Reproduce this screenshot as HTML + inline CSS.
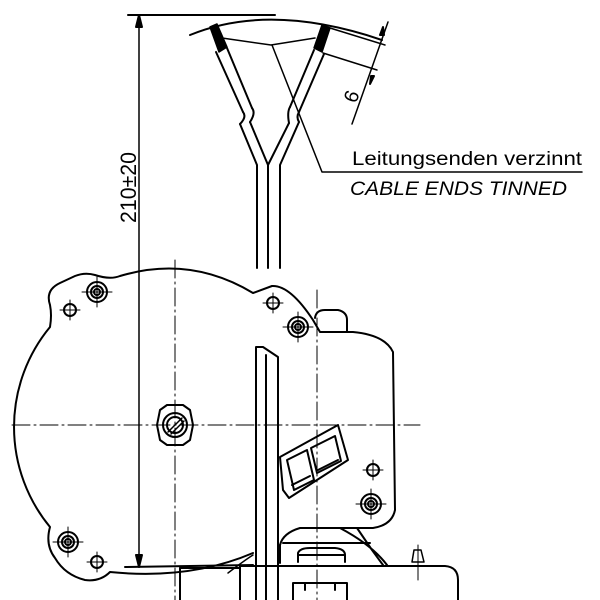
<!DOCTYPE html>
<html><head><style>html,body{margin:0;padding:0;background:#fff}svg{display:block}</style></head><body>
<svg width="600" height="600" viewBox="0 0 600 600" xmlns="http://www.w3.org/2000/svg" fill="none" stroke="#000" stroke-width="2" stroke-linejoin="round" stroke-linecap="round">
<!-- dimension 210 -->
<line x1="128" y1="15" x2="275" y2="15"/>
<line x1="139" y1="15" x2="139" y2="567" stroke-width="1.5"/>
<path d="M139 15 l-3 12 h6z" fill="#000"/>
<path d="M139 567 l-3 -12 h6z" fill="#000"/>
<line x1="125" y1="567" x2="253" y2="565"/>
<text x="0" y="0" transform="translate(136,223) rotate(-90)" font-family="Liberation Sans, sans-serif" font-size="22" fill="#000" stroke="none" textLength="71" lengthAdjust="spacingAndGlyphs">210±20</text>
<!-- top arc -->
<path d="M190 35 Q270 2 382 40"/>
<path d="M222 38 L271 45 L315 38" stroke-width="1.5"/>
<!-- left wire -->
<path d="M210 27 L217 24 L227 47 L219 52 Z" fill="#000" stroke-width="1.5"/>
<path d="M216 52 L243 112 M227 48 L252 108"/>
<path d="M240 124 L257 165 L257 268 M250 122 L268 165"/>
<path d="M243 112 q4 5 -3 12 M252 108 q4 5 -2 14"/>
<!-- right wire -->
<path d="M322 25 L330 28 L322 52 L314 48 Z" fill="#000" stroke-width="1.5"/>
<path d="M314 50 L290 107 M324 54 L299 112"/>
<path d="M289 123 L268 165 L268 268 M299 122 L280 165 L280 268"/>
<path d="M290 107 q-3 5 -1 16 M299 112 q-3 5 0 10"/>
<!-- dim 6 -->
<line x1="330" y1="28" x2="385" y2="45" stroke-width="1.5"/>
<line x1="323" y1="53" x2="377" y2="70" stroke-width="1.5"/>
<line x1="388" y1="22" x2="352" y2="124" stroke-width="1.5"/>
<path d="M384 35 l-1 -8 l-3 8z" fill="#000"/>
<path d="M371 76 l-1 8 l4 -8z" fill="#000"/>
<text transform="translate(356,104) rotate(-70)" font-family="Liberation Sans, sans-serif" font-size="20" fill="#000" stroke="none">6</text>
<!-- leader -->
<path d="M272 45 L322 172 L582 172" stroke-width="1.5"/>
<text x="352" y="165" font-family="Liberation Sans, sans-serif" font-size="19" fill="#000" stroke="none" textLength="230" lengthAdjust="spacingAndGlyphs">Leitungsenden verzinnt</text>
<text x="350" y="195" font-family="Liberation Sans, sans-serif" font-style="italic" font-size="19" fill="#000" stroke="none" textLength="217" lengthAdjust="spacingAndGlyphs">CABLE ENDS TINNED</text>
<!-- body outline -->
<path d="M50 305 Q45 290 60 283 L75 276 Q85 272 95 275 Q110 280 120 276 Q190 255 253 293 L272 286 Q290 285 313 320 L320 332 L353 332 Q385 335 393 352 L395 510 Q392 525 373 528 L300 528 Q283 533 280 545 M50 327 Q52 315 50 305 M50 327 A157 157 0 0 0 50 527 Q45 545 55 558 Q65 575 85 580 Q100 582 110 572 Q190 580 253 553"/>
<path d="M357 528 L372 550 L383 565 M340 528 Q372 545 387 565"/>
<path d="M280 545 L280 563"/>
<line x1="283" y1="543" x2="370" y2="543"/>
<path d="M240 566 L445 566 Q458 567 458 580 L458 600"/>
<line x1="180" y1="568" x2="240" y2="568"/>
<path d="M180 568 L180 600 M240 600 L240 566"/>
<!-- screw on base -->
<path d="M298 562 L298 553 Q300 548 310 548 L335 548 Q345 549 345 555 L345 562"/>
<line x1="298" y1="555" x2="345" y2="555"/>
<!-- bottom box -->
<path d="M293 600 L293 583 L347 583 L347 600"/>
<path d="M305 583 L305 590 M335 583 L335 590"/>
<!-- small post -->
<path d="M412 562 L414 550 L421 550 L424 562 Z" stroke-width="1.5"/>
<line x1="418" y1="545" x2="418" y2="580" stroke-width="1"/>
<!-- vertical cable -->
<path d="M256 600 L256 347 L263 347 L278 357 L278 600 M266 355 L266 600"/>
<path d="M253 555 Q245 560 228 573" stroke-width="1.5"/>
<!-- terminal block -->
<path d="M280 457 L338 425 L348 460 L289 498 L283 490 Z"/>
<path d="M287 460 l20 -10 l7 30 l-20 10 z M311 448 l24 -12 l6 25 l-24 12 z"/>
<path d="M292 485 l18 -9 M318 470 l20 -10"/>
<!-- center lines -->
<g stroke-width="1" stroke-dasharray="18 4 2 4">
<line x1="12" y1="425" x2="420" y2="425"/>
<line x1="175" y1="260" x2="175" y2="600"/>
<line x1="317" y1="290" x2="317" y2="600"/>
</g>
<!-- nut -->
<path d="M160 410 L167 405 L183 405 L190 410 L193 425 L190 440 L183 445 L167 445 L160 440 L157 425 Z"/>
<circle cx="175" cy="425" r="12"/>
<circle cx="175" cy="425" r="8"/>
<path d="M168 432 L182 418 M171 434 L184 421" stroke-width="1.5"/>
<!-- holes with concentric rings -->
<g>
<circle cx="97" cy="292" r="10"/><circle cx="97" cy="292" r="6"/><circle cx="97" cy="292" r="3"/>
<circle cx="298" cy="327" r="10"/><circle cx="298" cy="327" r="6"/><circle cx="298" cy="327" r="3"/>
<circle cx="371" cy="504" r="10"/><circle cx="371" cy="504" r="6"/><circle cx="371" cy="504" r="3"/>
<circle cx="68" cy="542" r="10"/><circle cx="68" cy="542" r="6"/><circle cx="68" cy="542" r="3"/>
<circle cx="70" cy="310" r="6"/><circle cx="273" cy="303" r="6"/><circle cx="373" cy="470" r="6"/><circle cx="97" cy="562" r="6"/>
</g>
<g stroke-width="1">
<path d="M82 292 h30 M97 277 v30 M283 327 h30 M298 312 v30 M356 504 h30 M371 489 v30 M53 542 h30 M68 527 v30"/>
<path d="M60 310 h20 M70 300 v20 M263 303 h20 M273 293 v20 M363 470 h20 M373 460 v20 M87 562 h20 M97 552 v20"/>
</g>
<!-- top bracket -->
<path d="M315 318 Q316 310 325 310 L338 310 Q347 312 347 320 L347 332"/>
</svg>
</body></html>
